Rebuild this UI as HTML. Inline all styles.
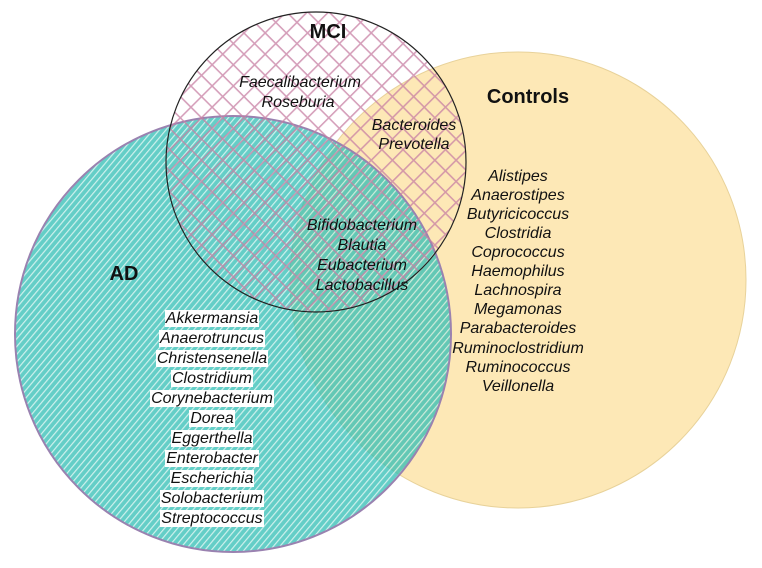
<!DOCTYPE html>
<html><head><style>
html,body{margin:0;padding:0;background:#fff;}
svg{display:block;}
text{font-family:"Liberation Sans",sans-serif;font-size:16px;fill:#111;}
.i{font-style:italic;}
.b{font-weight:bold;font-size:20px;}
#ad{position:absolute;left:112px;top:309px;width:200px;text-align:center;font-family:"Liberation Sans",sans-serif;font-style:italic;font-size:16px;line-height:20px;color:#111;}
#ad span{background:#fff;padding:0 1px;}
</style></head><body>
<svg width="762" height="568" viewBox="0 0 762 568">
<defs>
<pattern id="adp" width="5" height="5" patternUnits="userSpaceOnUse" patternTransform="rotate(-50)">
<rect width="5" height="5" fill="#30bdb4"/>
<rect width="5" height="1.2" fill="#bfece7"/>
</pattern>
<pattern id="mci" width="15" height="15" patternUnits="userSpaceOnUse" patternTransform="rotate(45)">
<rect width="15" height="1.6" fill="#c77fa3"/>
<rect width="1.6" height="15" fill="#c77fa3"/>
</pattern>
</defs>
<circle cx="518" cy="280" r="228" fill="#fde8b6" stroke="#e8d29a" stroke-width="1"/>
<circle cx="233" cy="334" r="218" fill="url(#adp)" opacity="0.75"/>
<circle cx="233" cy="334" r="218" fill="none" stroke="#9a82b0" stroke-width="2"/>
<circle cx="316" cy="162" r="150" fill="url(#mci)" opacity="0.75"/>
<circle cx="316" cy="162" r="150" fill="none" stroke="#222" stroke-width="1.2"/>
<text class="b" x="328" y="38" text-anchor="middle">MCI</text>
<text class="b" x="528" y="103" text-anchor="middle">Controls</text>
<text class="b" x="124" y="280" text-anchor="middle">AD</text>
<g text-anchor="middle">
<text class="i" x="300" y="87">Faecalibacterium</text>
<text class="i" x="298" y="107">Roseburia</text>
<text class="i" x="414" y="130">Bacteroides</text>
<text class="i" x="414" y="149">Prevotella</text>
<text class="i" x="362" y="230">Bifidobacterium</text>
<text class="i" x="362" y="250">Blautia</text>
<text class="i" x="362" y="270">Eubacterium</text>
<text class="i" x="362" y="290">Lactobacillus</text>
<text class="i" x="518" y="181">Alistipes</text>
<text class="i" x="518" y="200">Anaerostipes</text>
<text class="i" x="518" y="219">Butyricicoccus</text>
<text class="i" x="518" y="238">Clostridia</text>
<text class="i" x="518" y="257">Coprococcus</text>
<text class="i" x="518" y="276">Haemophilus</text>
<text class="i" x="518" y="295">Lachnospira</text>
<text class="i" x="518" y="314">Megamonas</text>
<text class="i" x="518" y="333">Parabacteroides</text>
<text class="i" x="518" y="353">Ruminoclostridium</text>
<text class="i" x="518" y="372">Ruminococcus</text>
<text class="i" x="518" y="391">Veillonella</text>
</g>
</svg>
<div id="ad">
<span>Akkermansia</span><br><span>Anaerotruncus</span><br><span>Christensenella</span><br><span>Clostridium</span><br><span>Corynebacterium</span><br><span>Dorea</span><br><span>Eggerthella</span><br><span>Enterobacter</span><br><span>Escherichia</span><br><span>Solobacterium</span><br><span>Streptococcus</span>
</div>
</body></html>
